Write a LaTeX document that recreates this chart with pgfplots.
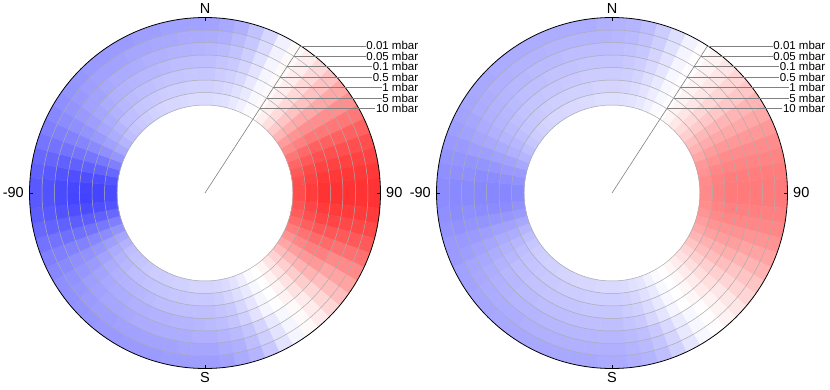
\documentclass[border=0pt]{standalone}
\usepackage{fontspec}
\setmainfont{Liberation Sans}
\usepackage{pgfplots}
\usepackage{pgfplotstable}
\usepgfplotslibrary{polar}
\pgfplotsset{compat=1.18}

% cell values: one row per 5 deg sector (left edge azimuth, 0 = N, 90 = E),
% one column per pressure ring, v0 = 10 mbar (inner) ... v6 = 0.01 mbar (outer)
\pgfplotstableread{
az v0 v1 v2 v3 v4 v5 v6
-180 -0.17 -0.21 -0.25 -0.28 -0.31 -0.35 -0.38
-175 -0.17 -0.21 -0.25 -0.29 -0.32 -0.35 -0.38
-170 -0.18 -0.22 -0.25 -0.29 -0.32 -0.36 -0.38
-165 -0.18 -0.22 -0.26 -0.30 -0.32 -0.36 -0.39
-160 -0.19 -0.23 -0.26 -0.30 -0.33 -0.36 -0.39
-155 -0.20 -0.23 -0.27 -0.31 -0.33 -0.37 -0.39
-150 -0.20 -0.24 -0.28 -0.31 -0.34 -0.37 -0.40
-145 -0.21 -0.25 -0.29 -0.32 -0.35 -0.38 -0.40
-140 -0.23 -0.26 -0.30 -0.33 -0.35 -0.38 -0.41
-135 -0.24 -0.28 -0.31 -0.34 -0.37 -0.39 -0.42
-130 -0.26 -0.30 -0.33 -0.36 -0.38 -0.41 -0.43
-125 -0.30 -0.33 -0.36 -0.39 -0.41 -0.43 -0.44
-120 -0.35 -0.38 -0.41 -0.43 -0.44 -0.46 -0.47
-115 -0.42 -0.45 -0.47 -0.49 -0.49 -0.50 -0.50
-110 -0.50 -0.53 -0.55 -0.56 -0.56 -0.55 -0.55
-105 -0.59 -0.62 -0.63 -0.63 -0.62 -0.61 -0.59
-100 -0.67 -0.69 -0.70 -0.69 -0.68 -0.65 -0.63
-95 -0.71 -0.73 -0.74 -0.73 -0.71 -0.68 -0.65
-90 -0.71 -0.73 -0.73 -0.72 -0.71 -0.68 -0.65
-85 -0.67 -0.69 -0.69 -0.69 -0.67 -0.65 -0.62
-80 -0.59 -0.61 -0.62 -0.62 -0.62 -0.60 -0.59
-75 -0.50 -0.53 -0.54 -0.55 -0.55 -0.55 -0.54
-70 -0.41 -0.44 -0.46 -0.48 -0.49 -0.50 -0.50
-65 -0.34 -0.37 -0.40 -0.42 -0.44 -0.45 -0.47
-60 -0.29 -0.32 -0.35 -0.38 -0.40 -0.42 -0.44
-55 -0.25 -0.29 -0.32 -0.35 -0.37 -0.40 -0.42
-50 -0.23 -0.26 -0.30 -0.33 -0.36 -0.38 -0.41
-45 -0.21 -0.25 -0.28 -0.31 -0.34 -0.37 -0.40
-40 -0.20 -0.23 -0.27 -0.30 -0.33 -0.37 -0.40
-35 -0.18 -0.22 -0.26 -0.29 -0.33 -0.36 -0.39
-30 -0.17 -0.21 -0.25 -0.28 -0.32 -0.35 -0.39
-25 -0.16 -0.20 -0.24 -0.28 -0.31 -0.35 -0.38
-20 -0.16 -0.19 -0.23 -0.27 -0.31 -0.34 -0.38
-15 -0.15 -0.19 -0.23 -0.26 -0.30 -0.34 -0.37
-10 -0.14 -0.18 -0.22 -0.26 -0.30 -0.33 -0.37
-5 -0.14 -0.18 -0.22 -0.25 -0.29 -0.33 -0.37
0 -0.14 -0.18 -0.22 -0.25 -0.28 -0.32 -0.36
5 -0.13 -0.17 -0.20 -0.23 -0.27 -0.31 -0.34
10 -0.12 -0.15 -0.18 -0.21 -0.24 -0.27 -0.31
15 -0.09 -0.12 -0.15 -0.17 -0.19 -0.22 -0.24
20 -0.06 -0.08 -0.09 -0.11 -0.12 -0.14 -0.16
25 -0.02 -0.03 -0.03 -0.04 -0.04 -0.05 -0.06
30 0.01 0.02 0.02 0.02 0.02 0.02 0.02
35 0.06 0.07 0.07 0.07 0.07 0.07 0.07
40 0.13 0.14 0.15 0.15 0.15 0.15 0.15
45 0.21 0.23 0.24 0.24 0.24 0.24 0.24
50 0.29 0.32 0.34 0.34 0.34 0.34 0.34
55 0.39 0.42 0.44 0.44 0.44 0.44 0.44
60 0.46 0.50 0.53 0.53 0.53 0.53 0.53
65 0.54 0.59 0.62 0.62 0.62 0.62 0.62
70 0.60 0.65 0.69 0.69 0.69 0.69 0.69
75 0.65 0.71 0.74 0.74 0.74 0.74 0.74
80 0.69 0.74 0.78 0.78 0.78 0.78 0.78
85 0.70 0.76 0.80 0.80 0.80 0.80 0.80
90 0.70 0.76 0.80 0.80 0.80 0.80 0.80
95 0.67 0.73 0.77 0.77 0.77 0.77 0.77
100 0.64 0.69 0.73 0.73 0.72 0.72 0.72
105 0.58 0.63 0.66 0.66 0.65 0.65 0.65
110 0.51 0.55 0.58 0.58 0.56 0.56 0.56
115 0.43 0.47 0.50 0.50 0.46 0.46 0.46
120 0.35 0.38 0.40 0.40 0.36 0.36 0.36
125 0.26 0.28 0.30 0.30 0.26 0.26 0.26
130 0.18 0.19 0.20 0.20 0.16 0.16 0.16
135 0.11 0.11 0.12 0.12 0.08 0.08 0.08
140 0.04 0.05 0.05 0.05 0.02 0.02 0.02
145 0.00 0.00 0.00 0.00 -0.03 -0.04 -0.04
150 -0.02 -0.03 -0.04 -0.04 -0.09 -0.11 -0.11
155 -0.07 -0.08 -0.10 -0.11 -0.17 -0.19 -0.21
160 -0.11 -0.13 -0.16 -0.18 -0.23 -0.26 -0.29
165 -0.14 -0.17 -0.21 -0.23 -0.27 -0.31 -0.33
170 -0.16 -0.20 -0.23 -0.26 -0.29 -0.33 -0.36
175 -0.17 -0.21 -0.25 -0.27 -0.31 -0.35 -0.38
180 -0.17 -0.21 -0.25 -0.28 -0.31 -0.35 -0.38
}\dataA

\pgfplotstableread{
az v0 v1 v2 v3 v4 v5 v6
-180 -0.15 -0.19 -0.22 -0.25 -0.28 -0.31 -0.33
-175 -0.15 -0.19 -0.22 -0.25 -0.28 -0.31 -0.34
-170 -0.16 -0.19 -0.22 -0.25 -0.28 -0.31 -0.34
-165 -0.16 -0.20 -0.23 -0.25 -0.28 -0.31 -0.34
-160 -0.16 -0.20 -0.23 -0.26 -0.28 -0.31 -0.34
-155 -0.17 -0.20 -0.23 -0.26 -0.28 -0.31 -0.34
-150 -0.17 -0.21 -0.23 -0.26 -0.29 -0.31 -0.34
-145 -0.18 -0.21 -0.24 -0.27 -0.29 -0.32 -0.34
-140 -0.18 -0.22 -0.24 -0.27 -0.29 -0.32 -0.34
-135 -0.19 -0.23 -0.25 -0.28 -0.30 -0.32 -0.35
-130 -0.20 -0.24 -0.26 -0.28 -0.31 -0.33 -0.35
-125 -0.22 -0.26 -0.28 -0.30 -0.32 -0.34 -0.36
-120 -0.25 -0.28 -0.30 -0.32 -0.34 -0.35 -0.37
-115 -0.29 -0.32 -0.33 -0.35 -0.36 -0.38 -0.39
-110 -0.34 -0.36 -0.37 -0.38 -0.39 -0.40 -0.40
-105 -0.39 -0.41 -0.41 -0.42 -0.42 -0.43 -0.42
-100 -0.43 -0.45 -0.45 -0.45 -0.44 -0.45 -0.44
-95 -0.46 -0.47 -0.47 -0.47 -0.46 -0.46 -0.45
-90 -0.46 -0.47 -0.47 -0.47 -0.46 -0.46 -0.45
-85 -0.43 -0.44 -0.45 -0.45 -0.44 -0.44 -0.44
-80 -0.39 -0.40 -0.41 -0.42 -0.42 -0.42 -0.42
-75 -0.34 -0.36 -0.37 -0.38 -0.38 -0.40 -0.40
-70 -0.29 -0.31 -0.33 -0.34 -0.35 -0.37 -0.38
-65 -0.25 -0.28 -0.29 -0.31 -0.33 -0.35 -0.36
-60 -0.22 -0.25 -0.27 -0.29 -0.31 -0.33 -0.35
-55 -0.20 -0.23 -0.25 -0.28 -0.30 -0.32 -0.34
-50 -0.18 -0.22 -0.24 -0.27 -0.29 -0.31 -0.34
-45 -0.17 -0.21 -0.23 -0.26 -0.28 -0.31 -0.33
-40 -0.16 -0.20 -0.23 -0.25 -0.28 -0.30 -0.33
-35 -0.16 -0.19 -0.22 -0.25 -0.27 -0.30 -0.33
-30 -0.15 -0.19 -0.22 -0.24 -0.27 -0.30 -0.32
-25 -0.15 -0.18 -0.21 -0.24 -0.27 -0.29 -0.32
-20 -0.14 -0.18 -0.21 -0.24 -0.26 -0.29 -0.32
-15 -0.14 -0.18 -0.20 -0.23 -0.26 -0.29 -0.32
-10 -0.13 -0.17 -0.20 -0.23 -0.26 -0.29 -0.32
-5 -0.13 -0.17 -0.20 -0.23 -0.26 -0.29 -0.31
0 -0.13 -0.17 -0.20 -0.23 -0.25 -0.28 -0.30
5 -0.12 -0.16 -0.19 -0.21 -0.24 -0.27 -0.29
10 -0.11 -0.14 -0.17 -0.19 -0.22 -0.24 -0.26
15 -0.09 -0.11 -0.13 -0.15 -0.17 -0.19 -0.20
20 -0.06 -0.07 -0.09 -0.10 -0.11 -0.12 -0.13
25 -0.02 -0.03 -0.03 -0.03 -0.04 -0.04 -0.05
30 0.01 0.01 0.01 0.01 0.01 0.01 0.01
35 0.04 0.05 0.05 0.05 0.05 0.05 0.05
40 0.09 0.10 0.10 0.10 0.10 0.10 0.10
45 0.14 0.15 0.16 0.16 0.16 0.16 0.16
50 0.19 0.21 0.22 0.22 0.22 0.22 0.22
55 0.25 0.28 0.29 0.29 0.29 0.29 0.29
60 0.30 0.33 0.34 0.34 0.34 0.34 0.34
65 0.35 0.39 0.40 0.40 0.40 0.40 0.40
70 0.40 0.43 0.45 0.45 0.45 0.45 0.45
75 0.43 0.47 0.48 0.48 0.48 0.48 0.48
80 0.45 0.49 0.51 0.51 0.51 0.51 0.51
85 0.46 0.50 0.52 0.52 0.52 0.52 0.52
90 0.46 0.50 0.52 0.52 0.52 0.52 0.52
95 0.44 0.48 0.50 0.50 0.50 0.50 0.50
100 0.42 0.46 0.47 0.47 0.47 0.47 0.47
105 0.38 0.42 0.43 0.43 0.42 0.42 0.42
110 0.34 0.37 0.38 0.38 0.36 0.36 0.36
115 0.29 0.31 0.32 0.32 0.30 0.30 0.30
120 0.23 0.25 0.26 0.26 0.23 0.23 0.23
125 0.17 0.19 0.19 0.19 0.17 0.17 0.17
130 0.12 0.13 0.13 0.13 0.10 0.10 0.10
135 0.07 0.08 0.08 0.08 0.05 0.05 0.05
140 0.03 0.03 0.03 0.03 0.01 0.01 0.01
145 0.00 0.00 0.00 0.00 -0.03 -0.03 -0.03
150 -0.02 -0.03 -0.03 -0.04 -0.08 -0.09 -0.10
155 -0.06 -0.08 -0.09 -0.10 -0.15 -0.17 -0.18
160 -0.10 -0.12 -0.14 -0.16 -0.21 -0.23 -0.25
165 -0.12 -0.16 -0.18 -0.21 -0.25 -0.27 -0.29
170 -0.14 -0.18 -0.20 -0.23 -0.27 -0.29 -0.31
175 -0.15 -0.19 -0.22 -0.25 -0.28 -0.31 -0.33
180 -0.15 -0.19 -0.22 -0.25 -0.28 -0.31 -0.33
}\dataB

% stack each table on itself: first copy = inner edge, second copy = outer edge of a ring
\pgfplotstablevertcat{\meshA}{\dataA}
\pgfplotstablevertcat{\meshA}{\dataA}
\pgfplotstablevertcat{\meshB}{\dataB}
\pgfplotstablevertcat{\meshB}{\dataB}

\pgfplotsset{
  ringaxis/.style={
    anchor=center, scale only axis, width=351pt, height=351pt,
    xmin=0, xmax=360, ymin=0, ymax=175.5,
    xtick={0,90,180,270}, xticklabels={90,N,-90,S},
    ytick={88,100.5,113,125.5,138,150.5,163}, yticklabels={},
    xmajorgrids=false, ymajorgrids,
    y grid style={black!32, line width=0.5pt},
    separate axis lines, y axis line style={draw=none}, ytick style={draw=none},
    x axis line style={black, line width=0.8pt},
    xtick style={black, line width=0.6pt},
    tick align=outside, major tick length=3.5pt,
    tick label style={font=\fontsize{14.5}{16}\selectfont},
    xticklabel style={inner xsep=9pt, inner ysep=7.5pt},
    axis on top,
    colormap={bwr}{rgb255=(0,0,255) rgb255=(255,255,255) rgb255=(255,0,0)},
    point meta min=-1, point meta max=1,
  },
  ring/.style={surf, shader=flat corner, mesh/rows=2, point meta=explicit, forget plot},
}

\begin{document}
\begin{tikzpicture}
\useasboundingbox (0,0) rectangle (830pt,389pt);

\begin{polaraxis}[ringaxis, at={(205pt,196pt)}]
\pgfplotsinvokeforeach{0,...,6}{
  \addplot[ring] table[x expr=90-\thisrow{az}, y expr={88+12.5*(#1+(\coordindex>72))}, meta=v#1] {\meshA};
}
\addplot[gray, line width=0.6pt, forget plot] coordinates {(57,0) (57,175.5)};
\coordinate (La0) at (axis cs:57,100.5);
\coordinate (La1) at (axis cs:57,113);
\coordinate (La2) at (axis cs:57,125.5);
\coordinate (La3) at (axis cs:57,138);
\coordinate (La4) at (axis cs:57,150.5);
\coordinate (La5) at (axis cs:57,163);
\coordinate (La6) at (axis cs:57,175.5);
\end{polaraxis}

\begin{polaraxis}[ringaxis, at={(612pt,196pt)}]
\pgfplotsinvokeforeach{0,...,6}{
  \addplot[ring] table[x expr=90-\thisrow{az}, y expr={88+12.5*(#1+(\coordindex>72))}, meta=v#1] {\meshB};
}
\addplot[gray, line width=0.6pt, forget plot] coordinates {(57,0) (57,175.5)};
\coordinate (Lb0) at (axis cs:57,100.5);
\coordinate (Lb1) at (axis cs:57,113);
\coordinate (Lb2) at (axis cs:57,125.5);
\coordinate (Lb3) at (axis cs:57,138);
\coordinate (Lb4) at (axis cs:57,150.5);
\coordinate (Lb5) at (axis cs:57,163);
\coordinate (Lb6) at (axis cs:57,175.5);
\end{polaraxis}

% pressure level labels with leader lines
\foreach \k/\t in {6/0.01,5/0.05,4/0.1,3/0.5,2/1,1/5,0/10}{
  \node[anchor=east, inner sep=0.6pt, font=\fontsize{11.5}{13}\selectfont] (tA\k) at (419pt,0 |- La\k) {\t\ mbar};
  \draw[gray, line width=0.6pt] (La\k) -- (tA\k.west);
  \node[anchor=east, inner sep=0.6pt, font=\fontsize{11.5}{13}\selectfont] (tB\k) at (826pt,0 |- Lb\k) {\t\ mbar};
  \draw[gray, line width=0.6pt] (Lb\k) -- (tB\k.west);
}
\end{tikzpicture}
\end{document}
